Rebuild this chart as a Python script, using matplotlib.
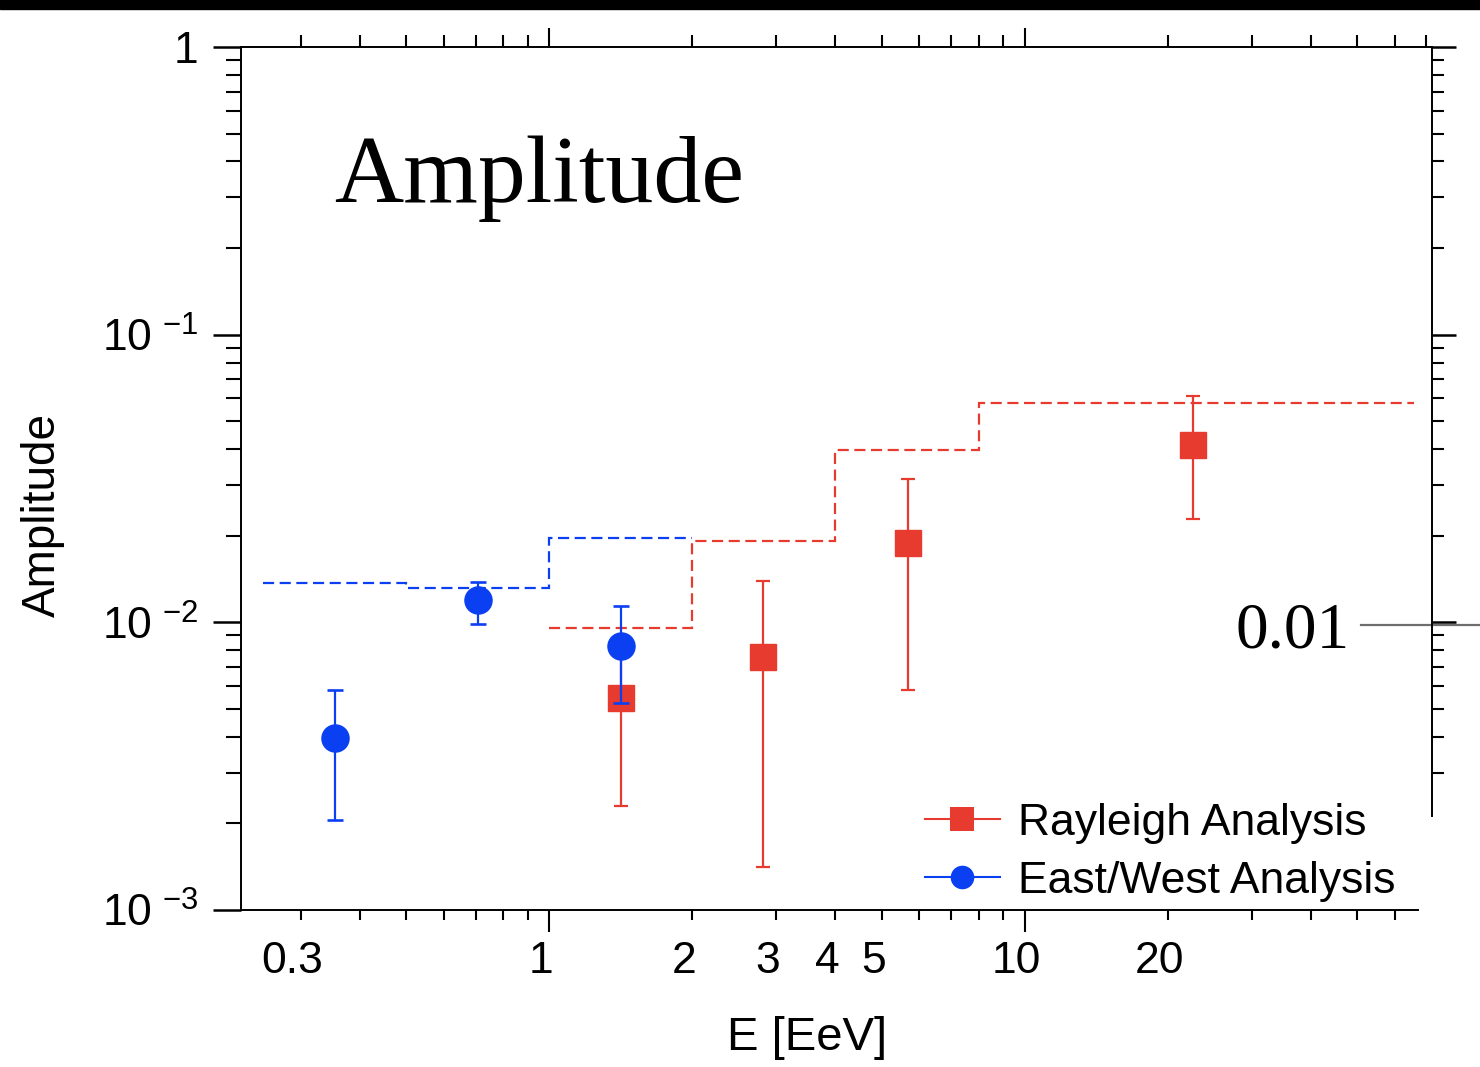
import matplotlib.pyplot as plt
from matplotlib.lines import Line2D
from matplotlib.patches import Rectangle
from matplotlib.transforms import ScaledTranslation, blended_transform_factory

plt.rcParams['font.family'] = ['Liberation Sans', 'DejaVu Sans']
plt.rcParams['mathtext.default'] = 'regular'

# East/West analysis: energy [EeV], amplitude, error band
ew_energy = [0.354, 0.707, 1.416]
ew_amp = [3.97e-3, 1.197e-2, 8.28e-3]
ew_low = [2.06e-3, 9.87e-3, 5.25e-3]
ew_high = [5.82e-3, 1.38e-2, 1.14e-2]

# Rayleigh analysis
ray_energy = [1.416, 2.82, 5.67, 22.6]
ray_amp = [5.46e-3, 7.58e-3, 1.888e-2, 4.14e-2]
ray_low = [2.30e-3, 1.41e-3, 5.82e-3, 2.29e-2]
ray_high = [8.3e-3, 1.393e-2, 3.15e-2, 6.12e-2]

# upper limits per energy bin (dashed steps)
ew_edges = [0.25, 0.5, 1, 2]
ew_ul = [0.0137, 0.0132, 0.0197]
ray_edges = [1, 2, 4, 8, 66]
ray_ul = [0.00957, 0.0192, 0.0397, 0.0579]

x_major = [1, 10]
x_minor = [0.3, 0.4, 0.5, 0.6, 0.7, 0.8, 0.9, 2, 3, 4, 5, 6, 7, 8, 9, 20, 30, 40, 50, 60]
x_minor_labels = ['0.3', '', '', '', '', '', '', '2', '3', '4', '5', '', '', '', '', '20', '', '', '', '']
y_major = [1e-3, 1e-2, 1e-1, 1]
y_major_labels = [r'$10^{\ {-}3}$', r'$10^{\ {-}2}$', r'$10^{\ {-}1}$', '1']
y_minor = [m * d for d in (1e-3, 1e-2, 1e-1) for m in range(2, 10)]

RED = '#e63b2e'
BLUE = '#0b3ff2'

W, H = 1480, 1067
fig = plt.figure(figsize=(W / 100, H / 100), dpi=100)
fig.patches.append(Rectangle((0, 1 - 9 / H), 1, 9 / H, transform=fig.transFigure,
                             color='black', zorder=0))

ax = fig.add_axes([241 / W, 1 - 910 / H, (1432 - 241) / W, (910 - 47) / H])
ax.set_xscale('log')
ax.set_yscale('log')
xlim = (0.2247, 71.9)
ax.set_xlim(*xlim)
ax.set_ylim(1e-3, 1)

for s in ('top', 'right'):
    ax.spines[s].set_visible(False)
ax.spines['left'].set_linewidth(1.4)
ax.spines['bottom'].set_linewidth(1.4)
ax.spines['bottom'].set_bounds(xlim[0], 67.2)

ax.set_xticks(x_major, labels=['1', '10'])
ax.set_xticks(x_minor, labels=x_minor_labels, minor=True)
ax.set_yticks(y_major, labels=y_major_labels)
ax.set_yticks(y_minor, labels=[''] * len(y_minor), minor=True)
# minor labels get extra pad so every label sits on one line
ax.tick_params(axis='x', which='major', direction='out', length=16, width=1.5, pad=6, labelsize=32)
ax.tick_params(axis='x', which='minor', direction='out', length=7.5, width=1.5, pad=14.5, labelsize=32)
ax.tick_params(axis='y', which='major', direction='out', length=20, width=1.8, pad=11, labelsize=32)
ax.tick_params(axis='y', which='minor', direction='out', length=11, width=1.5)
shift = ScaledTranslation(-8 / 100, 0, fig.dpi_scale_trans)
for lab in ax.get_xticklabels(which='both'):
    lab.set_transform(lab.get_transform() + shift)

# top axis ticks
axt = ax.twiny()
axt.set_xscale('log')
axt.set_xlim(*xlim)
for s in ('bottom', 'left', 'right'):
    axt.spines[s].set_visible(False)
axt.spines['top'].set_linewidth(1.4)
axt.set_xticks(x_major, labels=['', ''])
axt.set_xticks(x_minor + [70], labels=[''] * (len(x_minor) + 1), minor=True)
axt.tick_params(axis='x', which='major', direction='out', length=14, width=1.5)
axt.tick_params(axis='x', which='minor', direction='out', length=8.5, width=1.5)

# right axis, cut short above the legend
axr = ax.twinx()
axr.set_yscale('log')
axr.set_ylim(1e-3, 1)
for s in ('bottom', 'left', 'top'):
    axr.spines[s].set_visible(False)
axr.spines['right'].set_linewidth(1.4)
axr.spines['right'].set_bounds(2.12e-3, 1)
axr.set_yticks(y_major[1:], labels=['', '', ''])
axr.set_yticks([v for v in y_minor if v >= 3e-3], minor=True)
axr.yaxis.set_minor_formatter(plt.NullFormatter())
axr.tick_params(axis='y', which='major', direction='out', length=17, width=1.8)
axr.tick_params(axis='y', which='minor', direction='out', length=8.5, width=1.5)

dash = (0, (5, 2.5))
ax.stairs(ew_ul, ew_edges, baseline=None, color=BLUE, lw=1.6, ls=dash, zorder=2)
ax.stairs(ray_ul, ray_edges, baseline=None, color=RED, lw=1.6, ls=dash, zorder=2)


def err(vals, lo, hi):
    return [[v - l for v, l in zip(vals, lo)], [h - v for v, h in zip(vals, hi)]]


ax.errorbar(ray_energy, ray_amp, yerr=err(ray_amp, ray_low, ray_high), fmt='s',
            color=RED, mec=RED, ms=19, elinewidth=1.6, capsize=4.8, capthick=1.6, zorder=3)
ax.errorbar(ew_energy, ew_amp, yerr=err(ew_amp, ew_low, ew_high), fmt='o',
            color=BLUE, mec=BLUE, ms=19.5, elinewidth=1.6, capsize=6, capthick=1.9, zorder=4)

handles = [Line2D([], [], color=RED, marker='s', ms=17, mew=0, lw=1.5),
           Line2D([], [], color=BLUE, marker='o', ms=17, mew=0, lw=1.5)]
ax.legend(handles, ['Rayleigh Analysis', 'East/West Analysis'], loc='upper left',
          bbox_to_anchor=(0.574, 0.124), frameon=False, fontsize=32, borderpad=0,
          borderaxespad=0, handlelength=1.7, handletextpad=0.4, labelspacing=0.38)

fig.text(334 / W, 1 - 202 / H, 'Amplitude', family='Liberation Serif', fontsize=69,
         ha='left', va='baseline')
fig.text(43 / W, 1 - 515 / H, 'Amplitude', rotation=90, fontsize=33, ha='center', va='center')
fig.text(807 / W, 1 - 1038 / H, 'E [EeV]', fontsize=34, ha='center', va='center')

# 0.01 marker on the right-hand side
fig.text(1350 / W, 1 - 647 / H, '0.01', family='Liberation Serif', fontsize=47,
         ha='right', va='baseline')
mark = blended_transform_factory(fig.transFigure, ax.transData)
ax.plot([1361 / W, 1], [0.0098, 0.0098], transform=mark, color='#6e6e6e', lw=1.6, clip_on=False)

fig.savefig('out.png', dpi=100)
